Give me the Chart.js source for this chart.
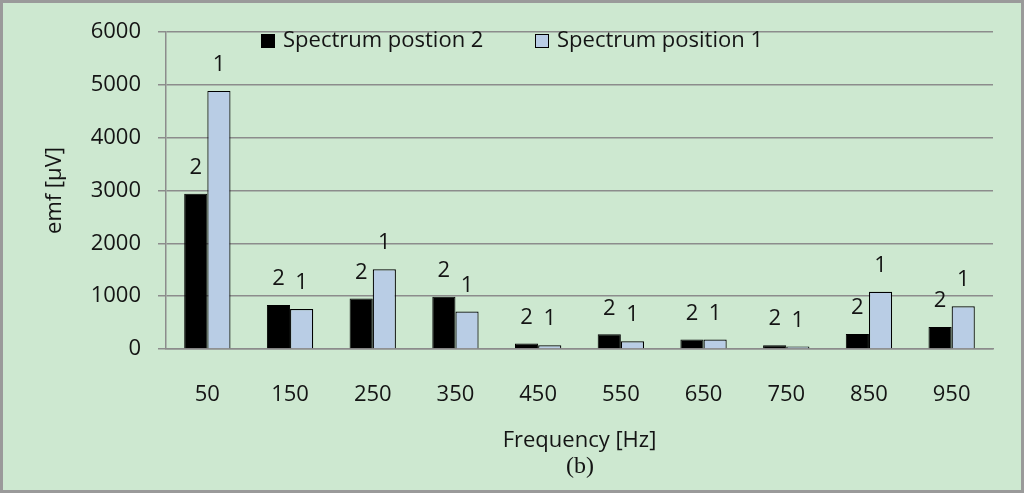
<!DOCTYPE html>
<html>
<head>
<meta charset="utf-8">
<script src="https://cdn.jsdelivr.net/npm/chart.js@4"></script>
<style>
  html, body { margin: 0; padding: 0; background: #cde8d0; }
  #wrap { width: 1024px; height: 493px; position: relative; }
</style>
</head>
<body>
<div id="wrap"><canvas id="emfChart" width="1024" height="493"></canvas></div>
<script>
const frequencies = ['50', '150', '250', '350', '450', '550', '650', '750', '850', '950'];
const position2 = [2940, 835, 955, 988, 105, 278, 182, 72, 282, 417];
const position1 = [4885, 755, 1510, 708, 72, 148, 180, 45, 1082, 810];
const seriesNames = ['Spectrum postion 2', 'Spectrum position 1'];
const seriesTags = ['2', '1'];
const yTicks = [0, 1000, 2000, 3000, 4000, 5000, 6000];

const FONT = '"Open Sans", Calibri, sans-serif';
const SIZE = 22;

// background, frame, bar tags, legend and the (b) caption
const decorations = {
  id: 'decorations',
  beforeDraw(chart) {
    const ctx = chart.ctx;
    ctx.save();
    ctx.fillStyle = '#cde8d0';
    ctx.fillRect(0, 0, chart.width, chart.height);
    ctx.restore();
  },
  afterDatasetsDraw(chart) {
    const ctx = chart.ctx;
    ctx.save();
    ctx.font = SIZE + 'px ' + FONT;
    ctx.fillStyle = '#141414';
    ctx.textAlign = 'center';
    ctx.textBaseline = 'middle';
    chart.data.datasets.forEach((ds, i) => {
      chart.getDatasetMeta(i).data.forEach(bar => {
        ctx.fillText(seriesTags[i], bar.x, bar.y - 26);
      });
    });
    ctx.restore();
  },
  afterDraw(chart) {
    const ctx = chart.ctx;
    ctx.save();
    // legend
    const legendX = [261, 535];
    ctx.font = SIZE + 'px ' + FONT;
    ctx.textBaseline = 'middle';
    ctx.textAlign = 'left';
    chart.data.datasets.forEach((ds, i) => {
      ctx.fillStyle = ds.backgroundColor;
      ctx.fillRect(legendX[i], 34, 14, 14);
      ctx.strokeStyle = '#000';
      ctx.lineWidth = 1;
      ctx.strokeRect(legendX[i] + 0.5, 34.5, 13, 13);
      ctx.fillStyle = '#141414';
      ctx.fillText(ds.label, legendX[i] + 22, 41);
    });
    // caption
    ctx.font = '24px "Liberation Serif", "Times New Roman", serif';
    ctx.textAlign = 'center';
    ctx.fillText('(b)', 580, 467);
    // frame
    ctx.strokeStyle = '#9a9a9a';
    ctx.lineWidth = 3;
    ctx.strokeRect(1.5, 1.5, chart.width - 3, chart.height - 3);
    ctx.restore();
  }
};

const ctx = document.getElementById('emfChart').getContext('2d');
const emfChart = new Chart(ctx, {
  type: 'bar',
  data: {
    labels: frequencies,
    datasets: [{
      label: seriesNames[0],
      data: position2,
      backgroundColor: '#000000',
      borderColor: '#000000',
      borderWidth: 1,
      barPercentage: 1,
      categoryPercentage: 0.56
    }, {
      label: seriesNames[1],
      data: position1,
      backgroundColor: '#b9cde5',
      borderColor: '#000000',
      borderWidth: 1.2,
      barPercentage: 1,
      categoryPercentage: 0.56
    }]
  },
  options: {
    responsive: false,
    animation: false,
    layout: { padding: { left: 0, right: 31, top: 32, bottom: 0 } },
    plugins: {
      legend: { display: false },
      tooltip: { enabled: false }
    },
    scales: {
      x: {
        grid: { display: false, drawTicks: false },
        border: { display: true, color: '#8c8c8c', width: 1.5 },
        ticks: { color: '#141414', font: { family: FONT, size: SIZE }, padding: 33 },
        title: {
          display: true,
          text: 'Frequency [Hz]',
          color: '#141414',
          font: { family: FONT, size: SIZE },
          padding: { top: 0, bottom: 39 }
        },
        afterFit(scale) { scale.height = 144; }
      },
      y: {
        min: 0,
        max: 6000,
        afterBuildTicks(scale) { scale.ticks = yTicks.map(v => ({ value: v })); },
        grid: { color: '#8c8c8c', lineWidth: 1.5, tickLength: 8 },
        border: { display: true, color: '#8c8c8c', width: 1.5 },
        ticks: { color: '#141414', font: { family: FONT, size: SIZE }, padding: 17, callback: v => String(v) },
        title: {
          display: true,
          text: 'emf [μV]',
          color: '#141414',
          font: { family: FONT, size: SIZE },
          padding: { top: 42, bottom: 0 }
        },
        afterFit(scale) { scale.width = 166; }
      }
    }
  },
  plugins: [decorations]
});
</script>
</body>
</html>
